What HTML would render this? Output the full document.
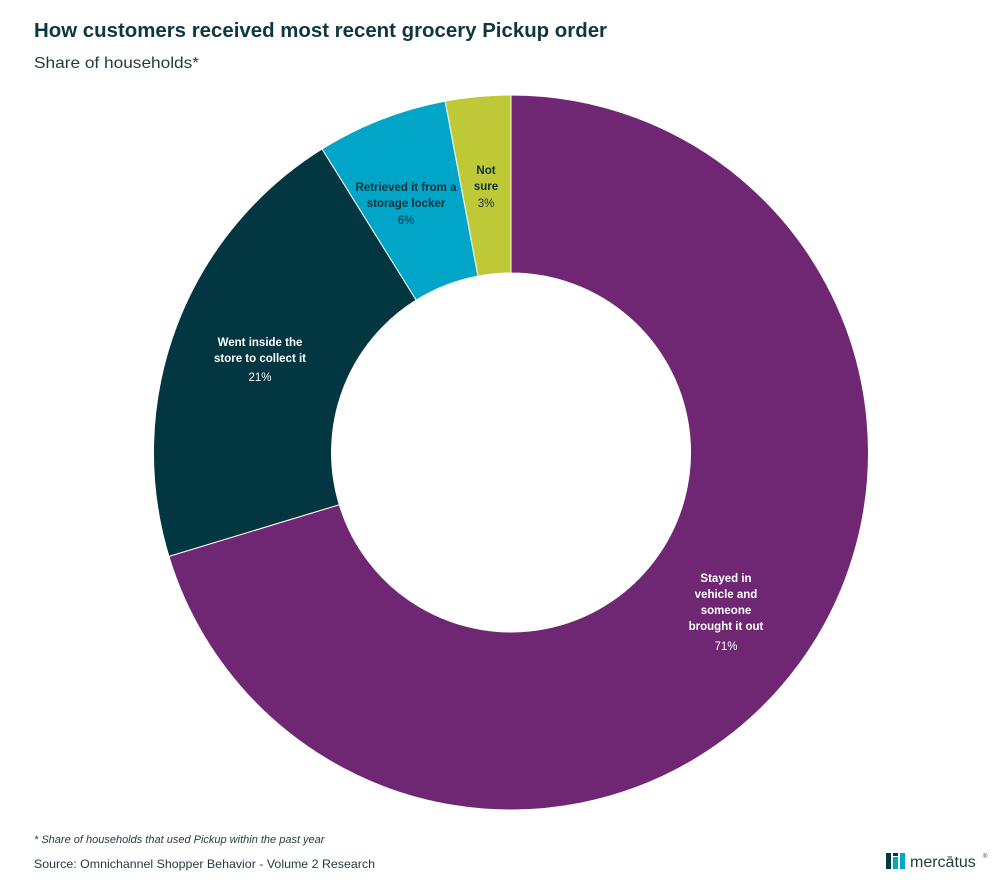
<!DOCTYPE html>
<html><head><style>
body{margin:0;background:#fff;width:1007px;height:885px;overflow:hidden;font-family:"Liberation Sans",sans-serif;}
</style></head><body>
<svg width="1007" height="885" viewBox="0 0 1007 885" xmlns="http://www.w3.org/2000/svg" font-family="Liberation Sans, sans-serif">
<text x="34" y="37" font-size="20" font-weight="bold" fill="#0e3740" textLength="573" lengthAdjust="spacingAndGlyphs">How customers received most recent grocery Pickup order</text>
<text x="34" y="68" font-size="16" fill="#1f3a40" textLength="165" lengthAdjust="spacingAndGlyphs">Share of households*</text>
<g stroke="#fff" stroke-width="1">
<path d="M511,95 A357.5,357.5 0 1 1 168.9,556.4 L339.3,504.7 A179.5,179.5 0 1 0 511,273 Z" fill="#6f2774"/>
<path d="M168.9,556.4 A357.5,357.5 0 0 1 322.1,149 L416.2,300.1 A179.5,179.5 0 0 0 339.3,504.7 Z" fill="#023641"/>
<path d="M322.1,149 A357.5,357.5 0 0 1 445.2,101.1 L478,276.1 A179.5,179.5 0 0 0 416.2,300.1 Z" fill="#00a5c8"/>
<path d="M445.2,101.1 A357.5,357.5 0 0 1 511,95 L511,273 A179.5,179.5 0 0 0 478,276.1 Z" fill="#bfc837"/>
</g>
<g font-size="11.5" text-anchor="middle">
<text x="726" y="582" fill="#fff" font-weight="bold">Stayed in</text>
<text x="726" y="598" fill="#fff" font-weight="bold">vehicle and</text>
<text x="726" y="614" fill="#fff" font-weight="bold">someone</text>
<text x="726" y="630" fill="#fff" font-weight="bold">brought it out</text>
<text x="726" y="650" fill="#fff">71%</text>
<text x="260" y="346" fill="#fff" font-weight="bold">Went inside the</text>
<text x="260" y="362" fill="#fff" font-weight="bold">store to collect it</text>
<text x="260" y="381" fill="#fff">21%</text>
<text x="406" y="191" fill="#0c2e36" font-weight="bold">Retrieved it from a</text>
<text x="406" y="207" fill="#0c2e36" font-weight="bold">storage locker</text>
<text x="406" y="224" fill="#0c2e36">6%</text>
<text x="486" y="174" fill="#0c2e36" font-weight="bold">Not</text>
<text x="486" y="190" fill="#0c2e36" font-weight="bold">sure</text>
<text x="486" y="207" fill="#0c2e36">3%</text>
</g>
<text x="34" y="843" font-size="11" font-style="italic" fill="#1f3a40">* Share of households that used Pickup within the past year</text>
<text x="34" y="868" font-size="12" fill="#1f3a40" textLength="341" lengthAdjust="spacingAndGlyphs">Source: Omnichannel Shopper Behavior - Volume 2 Research</text>
<g>
<rect x="886" y="853" width="5" height="16" fill="#023641"/>
<rect x="893" y="857" width="5" height="12" fill="#00a5c8"/>
<rect x="900" y="853" width="5" height="16" fill="#00a5c8"/>
<rect x="893" y="853" width="5" height="3" fill="#023641"/>
<text x="910" y="867" font-size="16" fill="#1f3a40">mercātus</text>
<text x="983" y="858" font-size="6" fill="#1f3a40">®</text>
</g>
</svg>
</body></html>
